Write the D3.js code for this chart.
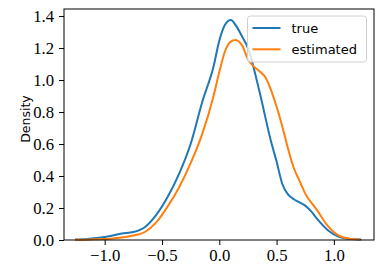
<!DOCTYPE html>
<html>
<head>
<meta charset="utf-8">
<title>KDE</title>
<script src="https://cdn.jsdelivr.net/npm/d3@7"></script>
<style>
  body { margin: 0; background: #fff; }
  svg { display: block; }
  .tick text { font-family: "Liberation Serif", "Times New Roman", serif; }
</style>
</head>
<body>
<script>
// density estimates
var xsTrue = [-1.25, -1.15, -1.05, -0.95, -0.85, -0.75, -0.65, -0.55, -0.45, -0.35, -0.25, -0.15, -0.05, 0.0, 0.05, 0.1, 0.15, 0.2, 0.25, 0.35, 0.45, 0.5, 0.55, 0.6, 0.65, 0.7, 0.75, 0.8, 0.85, 0.95, 1.05, 1.15, 1.23];
var yTrue  = [0.003, 0.007, 0.014, 0.025, 0.04, 0.05, 0.08, 0.157, 0.27, 0.415, 0.6, 0.86, 1.085, 1.245, 1.345, 1.375, 1.335, 1.27, 1.2, 0.93, 0.62, 0.49, 0.35, 0.285, 0.255, 0.235, 0.215, 0.18, 0.135, 0.06, 0.018, 0.006, 0.003];

var xsEst = [-1.25, -1.15, -1.05, -0.95, -0.85, -0.75, -0.65, -0.55, -0.45, -0.35, -0.25, -0.15, -0.05, 0.0, 0.05, 0.1, 0.14, 0.2, 0.25, 0.3, 0.35, 0.4, 0.45, 0.5, 0.55, 0.6, 0.65, 0.7, 0.75, 0.85, 0.95, 1.05, 1.15, 1.22];
var yEst  = [0.001, 0.002, 0.005, 0.008, 0.015, 0.028, 0.05, 0.11, 0.21, 0.33, 0.48, 0.66, 0.9, 1.05, 1.18, 1.24, 1.25, 1.215, 1.13, 1.085, 1.055, 1.02, 0.94, 0.833, 0.71, 0.57, 0.45, 0.37, 0.29, 0.19, 0.085, 0.025, 0.007, 0.003];

var seriesNames = ["true", "estimated"];
var colors = ["#1f77b4", "#ff7f0e"];
var xTicks = [-1.0, -0.5, 0.0, 0.5, 1.0];
var yTicks = [0.0, 0.2, 0.4, 0.6, 0.8, 1.0, 1.2, 1.4];

var W = 383, H = 278;
var m = {l: 64, r: 9, t: 9, b: 38};

var svg = d3.select("body").append("svg")
    .attr("width", W).attr("height", H);

var x = d3.scaleLinear().domain([-1.355, 1.35]).range([m.l, W - m.r]);
var y = d3.scaleLinear().domain([0, 1.444]).range([H - m.b, m.t]);

var line = d3.line()
    .x(function(d) { return x(d[0]); })
    .y(function(d) { return y(d[1]); })
    .curve(d3.curveMonotoneX);

var series = [d3.zip(xsTrue, yTrue), d3.zip(xsEst, yEst)];

svg.selectAll("path.kde").data(series).enter().append("path")
    .attr("class", "kde")
    .attr("d", line)
    .attr("fill", "none")
    .attr("stroke", function(d, i) { return colors[i]; })
    .attr("stroke-width", 2)
    .attr("stroke-linejoin", "round")
    .attr("stroke-linecap", "square");

// axes
var fmt = function(d) { return d3.format(".1f")(d).replace("-", "\u2212"); };

var gx = svg.append("g")
    .attr("transform", "translate(0," + (H - m.b) + ")")
    .call(d3.axisBottom(x).tickValues(xTicks).tickFormat(fmt).tickSizeOuter(0).tickSize(5).tickPadding(4));
var gy = svg.append("g")
    .attr("transform", "translate(" + m.l + ",0)")
    .call(d3.axisLeft(y).tickValues(yTicks).tickFormat(fmt).tickSizeOuter(0).tickSize(5).tickPadding(5));

[gx, gy].forEach(function(g) {
  g.attr("font-family", "Liberation Serif").attr("font-size", 16.7);
  g.select(".domain").remove();
  g.selectAll("line").attr("stroke", "#000").attr("stroke-width", 1);
  g.selectAll("text").attr("fill", "#000");
});

// frame
svg.append("rect")
    .attr("x", m.l).attr("y", m.t)
    .attr("width", W - m.l - m.r).attr("height", H - m.t - m.b)
    .attr("fill", "none").attr("stroke", "#000").attr("stroke-width", 1);

svg.append("text")
    .attr("transform", "translate(30,119) rotate(-90)")
    .attr("text-anchor", "middle")
    .style("font-family", "'DejaVu Sans', sans-serif")
    .style("font-size", "12.5px")
    .text("Density");

// legend
var lg = svg.append("g").attr("transform", "translate(247.5,16)");
lg.append("rect")
    .attr("width", 119).attr("height", 46).attr("rx", 3)
    .attr("fill", "#fff").attr("fill-opacity", 0.8)
    .attr("stroke", "#d0d0d0").attr("stroke-width", 1);

var items = lg.selectAll("g.item").data(seriesNames).enter().append("g")
    .attr("class", "item")
    .attr("transform", function(d, i) { return "translate(0," + (12 + i * 21.3) + ")"; });
items.append("line")
    .attr("x1", 5).attr("x2", 33)
    .attr("stroke", function(d, i) { return colors[i]; })
    .attr("stroke-width", 2);
items.append("text")
    .attr("x", 44).attr("dy", "0.35em")
    .style("font-family", "'DejaVu Sans', sans-serif")
    .style("font-size", "13px")
    .text(function(d) { return d; });
</script>
</body>
</html>
